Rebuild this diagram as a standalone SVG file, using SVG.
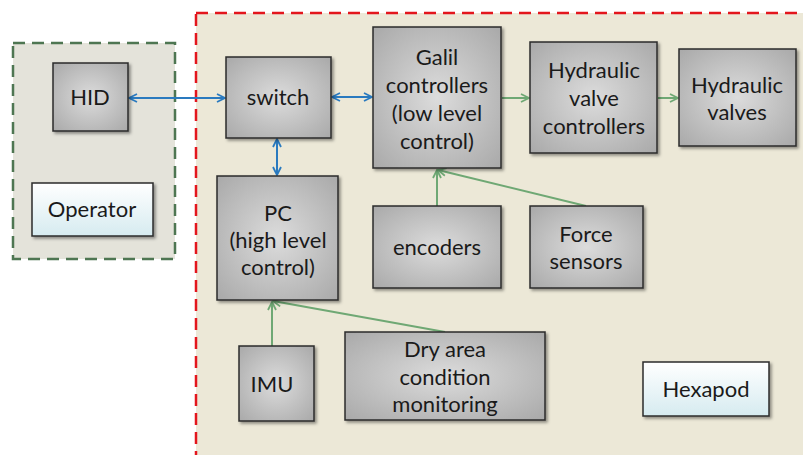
<svg xmlns="http://www.w3.org/2000/svg" width="803" height="455" viewBox="0 0 803 455">
<defs>
<radialGradient id="gray" cx="50%" cy="50%" r="70%">
<stop offset="0" stop-color="#dcdcdc"/>
<stop offset="1" stop-color="#a9a9a9"/>
</radialGradient>
<linearGradient id="blue" x1="0" y1="0" x2="0" y2="1">
<stop offset="0" stop-color="#ffffff"/>
<stop offset="1" stop-color="#d6ebf0"/>
</linearGradient>
<filter id="sh" x="-10%" y="-10%" width="130%" height="130%">
<feDropShadow dx="2" dy="2" stdDeviation="1.5" flood-color="#000" flood-opacity="0.4"/>
</filter>
<marker id="ab" viewBox="0 0 10 10" refX="9" refY="5" markerWidth="10" markerHeight="10" markerUnits="userSpaceOnUse" orient="auto-start-reverse">
<path d="M1,1 L9,5 L1,9" fill="none" stroke="#2a7abf" stroke-width="1.8"/>
</marker>
<marker id="ag" viewBox="0 0 10 10" refX="9" refY="5" markerWidth="10" markerHeight="10" markerUnits="userSpaceOnUse" orient="auto">
<path d="M1,1 L9,5 L1,9" fill="none" stroke="#6fa874" stroke-width="1.8"/>
</marker>
</defs>
<style>
.box{fill:url(#gray);stroke:#2b2b2b;stroke-width:1.5;filter:url(#sh)}
.lbox{fill:url(#blue);stroke:#2b2b2b;stroke-width:1.5;filter:url(#sh)}
text{font-family:Lato,"Open Sans","DejaVu Sans",sans-serif;font-size:22px;fill:#1a1a1a;text-anchor:middle}
.cb{stroke:#2a7abf;stroke-width:2;fill:none;marker-start:url(#ab);marker-end:url(#ab)}
.cg{stroke:#6fa874;stroke-width:2;fill:none;marker-end:url(#ag)}
</style>
<rect width="803" height="455" fill="#ffffff"/>
<g id="hexapod-area">
<rect x="196" y="13" width="620" height="460" fill="#ece8d7" stroke="#e3161d" stroke-width="2.5" stroke-dasharray="12,7"/>
</g>
<g id="operator-area">
<rect x="13" y="43" width="162" height="216" fill="#e4e3da" stroke="#4e7652" stroke-width="2.5" stroke-dasharray="12,7"/>
</g>
<g id="connectors">
<line class="cb" x1="129" y1="98" x2="225" y2="98"/>
<line class="cb" x1="332" y1="97" x2="372" y2="97"/>
<line class="cb" x1="277" y1="139" x2="277" y2="175"/>
<line class="cg" x1="502" y1="98" x2="529" y2="98"/>
<line class="cg" x1="658" y1="98" x2="678" y2="98"/>
<line class="cg" x1="437" y1="206" x2="437" y2="170"/>
<line class="cg" x1="586" y1="206" x2="438" y2="170"/>
<line class="cg" x1="272" y1="346" x2="272" y2="302"/>
<line class="cg" x1="445" y1="332" x2="273" y2="301"/>
</g>
<g id="hid"><rect class="box" x="53" y="63" width="75" height="68"/><text x="90" y="105">HID</text></g>
<g id="operator"><rect class="lbox" x="32" y="183" width="121" height="53"/><text x="92" y="217">Operator</text></g>
<g id="switch"><rect class="box" x="226" y="57" width="105" height="81"/><text x="278" y="105">switch</text></g>
<g id="galil"><rect class="box" x="373" y="27" width="128" height="141"/>
<text x="437" y="65">Galil</text><text x="437" y="93">controllers</text><text x="437" y="121">(low level</text><text x="437" y="149">control)</text></g>
<g id="hvc"><rect class="box" x="530" y="42" width="127" height="111"/>
<text x="594" y="78">Hydraulic</text><text x="594" y="106">valve</text><text x="594" y="134">controllers</text></g>
<g id="hv"><rect class="box" x="679" y="49" width="117" height="97"/>
<text x="737" y="93">Hydraulic</text><text x="737" y="120">valves</text></g>
<g id="pc"><rect class="box" x="217" y="176" width="121" height="124"/>
<text x="278" y="221">PC</text><text x="278" y="248">(high level</text><text x="278" y="275">control)</text></g>
<g id="encoders"><rect class="box" x="373" y="206" width="128" height="82"/><text x="437" y="255">encoders</text></g>
<g id="force"><rect class="box" x="530" y="206" width="113" height="82"/>
<text x="586" y="242">Force</text><text x="586" y="269">sensors</text></g>
<g id="imu"><rect class="box" x="239" y="346" width="75" height="75"/><text x="272" y="392">IMU</text></g>
<g id="dry"><rect class="box" x="345" y="332" width="200" height="88"/>
<text x="445" y="357">Dry area</text><text x="445" y="385">condition</text><text x="445" y="412">monitoring</text></g>
<g id="hexapod"><rect class="lbox" x="643" y="362" width="126" height="54"/><text x="706" y="397">Hexapod</text></g>
</svg>
